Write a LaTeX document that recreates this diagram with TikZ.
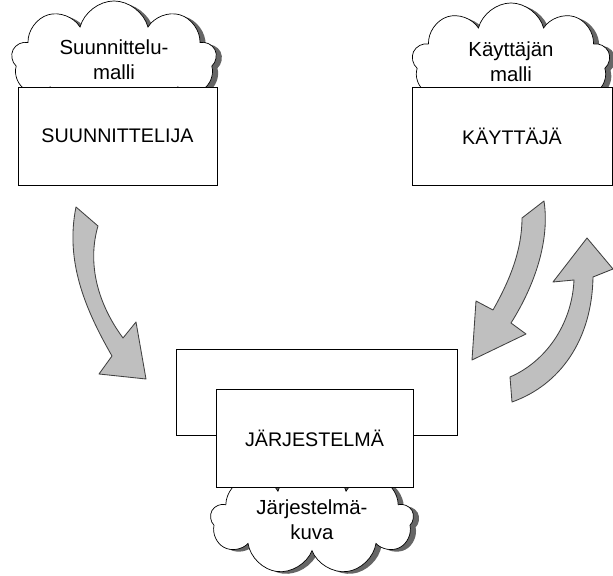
\documentclass[tikz,border=0pt]{standalone}
\usepackage{fontspec}
\setmainfont{Liberation Sans}
\usepackage{tikz}
\usetikzlibrary{shapes.symbols, shadows}

\begin{document}
\begin{tikzpicture}[
    x=0.025cm, y=-0.025cm,
    box/.style={draw, fill=white, line width=0.6pt, minimum width=#1, minimum height=2.45cm, font=\fontsize{14}{17}\selectfont},
    thought/.style={cloud, cloud puffs=9, cloud ignores aspect, draw, fill=white, line width=0.5pt,
        minimum width=#1, align=center, font=\fontsize{14.5}{17.5}\selectfont,
        drop shadow={shadow xshift=4pt, shadow yshift=-1.5pt, fill=black!60, opacity=1}},
    bigarr/.style={draw=black!75, fill=black!25, line width=0.6pt, line join=round}
]
\useasboundingbox (0,0) rectangle (613,576);

% Mallit (pilvet)
\node[thought=5.125cm, minimum height=2.95cm] (smalli) at (114,60) {Suunnittelu-\\malli};
\node[thought=4.95cm, minimum height=2.95cm] (kmalli) at (511,62) {Käyttäjän\\malli};
\node[thought=5.075cm, minimum height=2.65cm] (jkuva) at (312,520) {Järjestelmä-\\kuva};

% Suunnittelija
\node[box=4.975cm] (suunnittelija) at (117.5,136) {SUUNNITTELIJA};

% Käyttäjä
\node[box=5cm] (kayttaja) at (512,136) {KÄYTTÄJÄ};

% Järjestelmä
\node[draw, line width=0.6pt, minimum width=7.025cm, minimum height=2.15cm] (kehys) at (316.5,392) {};
\node[box=4.925cm] (jarjestelma) at (314.5,438) {JÄRJESTELMÄ};

% Suunnittelijalta järjestelmään
\draw[bigarr] (76,207) -- (98,226) .. controls (88,260) and (95,300) .. (123,338)
    -- (136,322) -- (146,379) -- (99,374) -- (112,356)
    .. controls (85,309) and (65,261) .. (76,207) -- cycle;

% Käyttäjältä järjestelmään
\draw[bigarr] (522,218) -- (544,201) .. controls (550,240) and (535,285) .. (511,323)
    -- (526,334) -- (472,360) -- (476,301) -- (493,310)
    .. controls (510,280) and (522,250) .. (522,218) -- cycle;

% Järjestelmältä käyttäjälle
\draw[bigarr] (510,377) .. controls (545,362) and (572,325) .. (574,280)
    -- (553,282) -- (587,238) -- (613,269) -- (593,277)
    .. controls (592,340) and (560,385) .. (512,402) -- cycle;

\end{tikzpicture}
\end{document}
